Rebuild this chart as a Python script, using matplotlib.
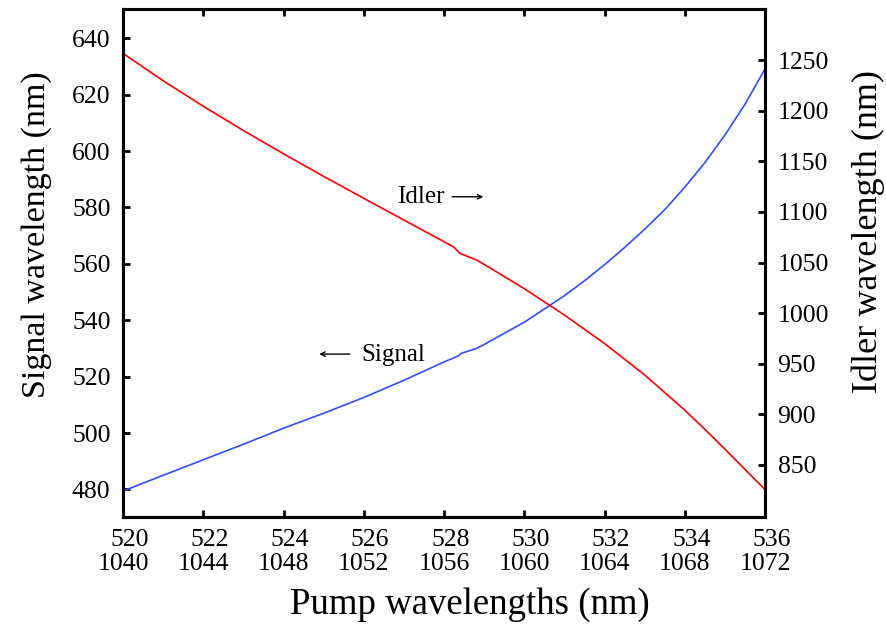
import matplotlib
matplotlib.use("Agg")
from matplotlib import pyplot as plt

plt.rcParams['font.family'] = ['Liberation Serif', 'DejaVu Serif']

# idler curve (right axis)
pump_i = [520, 521, 522, 523, 524, 525, 526, 527, 528, 528.24, 528.40, 528.81,
          529, 530, 531, 532, 533, 534, 534.5, 535, 535.5, 536]
idler = [1256.6, 1229.6, 1204.4, 1180.4, 1157.4, 1135.1, 1113.4, 1092.0, 1070.6, 1065.4,
         1059.0, 1052.5, 1048.2, 1024.2, 998.2, 970.0, 939.0, 904.2, 885.3, 865.7,
         845.7, 825.7]

# signal curve (left axis)
pump_s = [520, 521, 522, 523, 524, 525, 526, 527, 528, 528.36, 528.44, 528.81,
          529, 530, 531, 531.5, 532, 532.5, 533, 533.5, 534, 534.5, 535, 535.5, 536]
signal = [479.4, 485.0, 490.5, 496.0, 501.7, 507.0, 512.6, 518.7, 525.2, 527.4,
          528.3, 530.0, 531.4, 539.3, 548.7, 554.0, 559.7, 565.8, 572.3, 579.2,
          587.2, 595.9, 605.7, 616.6, 629.2]

pump_ticks = [520, 522, 524, 526, 528, 530, 532, 534, 536]
pump2_labels = ['1040', '1044', '1048', '1052', '1056', '1060', '1064', '1068', '1072']
signal_ticks = [480, 500, 520, 540, 560, 580, 600, 620, 640]
idler_ticks = [850, 900, 950, 1000, 1050, 1100, 1150, 1200, 1250]

fig = plt.figure(figsize=(8.87, 6.30), dpi=100)
ax = fig.add_axes([0.1387, 0.1798, 0.8625 - 0.1387, 0.9852 - 0.1798])
ax2 = ax.twinx()

ax.plot(pump_s, signal, color='#2f4fff', lw=1.2)
ax2.plot(pump_i, idler, color='#ff0000', lw=1.2)

ax.set_xlim(520, 536)
ax.set_ylim(470.3, 650.3)
ax2.set_ylim(798.9, 1300.1)

ax.set_xticks(pump_ticks)
ax.set_xticklabels([f'{a}\n{b}' for a, b in zip(pump_ticks, pump2_labels)],
                   multialignment='right', linespacing=1.1)
ax.set_yticks(signal_ticks)
ax2.set_yticks(idler_ticks)

for a in (ax, ax2):
    for s in a.spines.values():
        s.set_linewidth(2.2)
    a.tick_params(direction='in', length=5, width=2, labelsize=18.5, pad=9)
ax.tick_params(top=True, right=False)
ax2.tick_params(left=False, right=True, labelright=True)

# axis titles
fig.text(0.530, 0.0397, 'Pump wavelengths (nm)', fontsize=26.5, ha='center', va='center')
fig.text(0.0417, 0.627, 'Signal wavelength (nm)', fontsize=24.5, rotation=90,
         ha='center', va='center')
fig.text(0.9786, 0.632, 'Idler wavelength (nm)', fontsize=26, rotation=90,
         ha='center', va='center')

ax.text(526.83, 583.7, 'Idler', fontsize=18, va='center', ha='left')
ax.annotate('', xy=(529.05, 583.8), xytext=(528.13, 583.8),
            arrowprops=dict(arrowstyle='->', lw=1, mutation_scale=8))
ax.text(525.95, 527.7, 'Signal', fontsize=18, va='center', ha='left')
ax.annotate('', xy=(524.82, 528.0), xytext=(525.72, 528.0),
            arrowprops=dict(arrowstyle='->', lw=1, mutation_scale=8))

fig.savefig('out.png', dpi=100)
